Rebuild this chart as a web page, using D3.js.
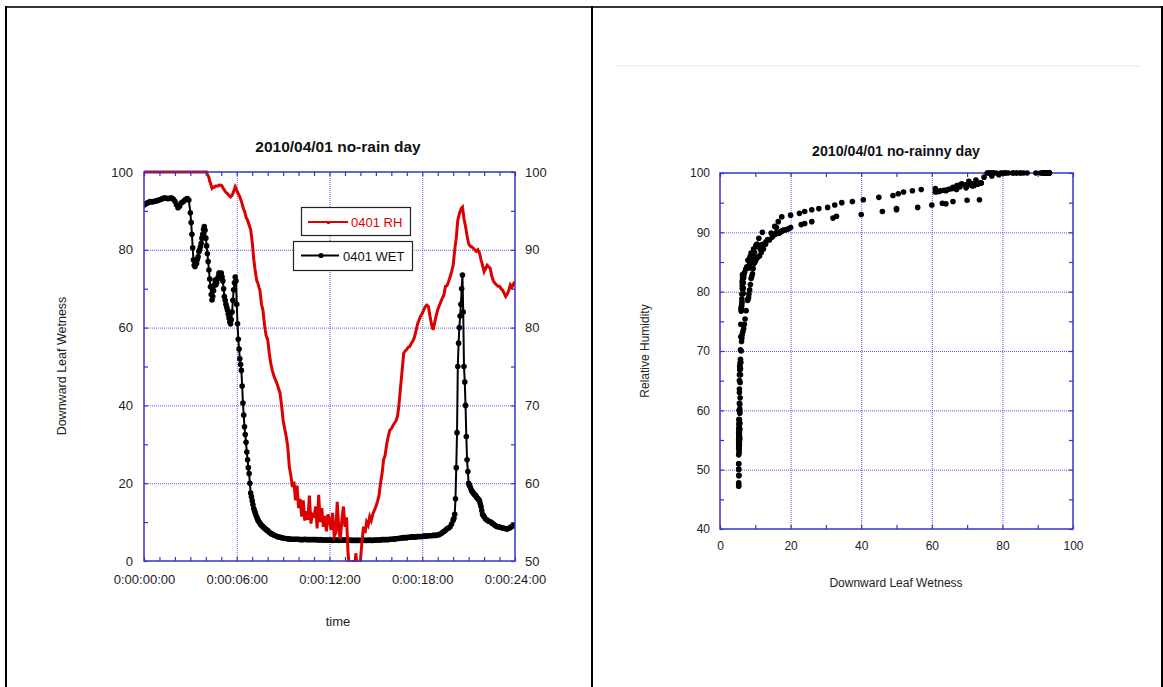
<!DOCTYPE html>
<html>
<head>
<meta charset="utf-8">
<script src="https://cdn.jsdelivr.net/npm/d3@7"></script>
<style>
body { margin: 0; background: #fff; }
svg { display: block; font-family: "Liberation Sans", Arial, sans-serif; }
</style>
</head>
<body>
<svg id="chart" width="1163" height="687"></svg>
<script>
// sample times (hours); readings every 6 min, every 3 min while things change fast
var hours = [
  0, 0.1, 0.2, 0.3, 0.4, 0.5, 0.6, 0.7, 0.8, 0.9,
  1, 1.1, 1.2, 1.3, 1.4, 1.5, 1.6, 1.7, 1.8, 1.9,
  2, 2.1, 2.2, 2.3, 2.4, 2.5, 2.6, 2.7, 2.8, 2.9,
  3, 3.05, 3.1, 3.15, 3.2, 3.25, 3.3, 3.35, 3.4, 3.45, 3.5, 3.55, 3.6, 3.65, 3.7, 3.75, 3.8, 3.85, 3.9, 3.95,
  4, 4.05, 4.1, 4.15, 4.2, 4.25, 4.3, 4.35, 4.4, 4.45, 4.5, 4.55, 4.6, 4.65, 4.7, 4.75, 4.8, 4.85, 4.9, 4.95,
  5, 5.05, 5.1, 5.15, 5.2, 5.25, 5.3, 5.35, 5.4, 5.45, 5.5, 5.55, 5.6, 5.65, 5.7, 5.75, 5.8, 5.85, 5.9, 5.95,
  6, 6.05, 6.1, 6.15, 6.2, 6.25, 6.3, 6.35, 6.4, 6.45, 6.5, 6.55, 6.6, 6.65, 6.7, 6.75, 6.8, 6.85, 6.9, 6.95,
  7, 7.05, 7.1, 7.15, 7.2, 7.25, 7.3, 7.35, 7.4, 7.45, 7.5, 7.55, 7.6, 7.65, 7.7, 7.75, 7.8, 7.85, 7.9, 7.95,
  8, 8.1, 8.2, 8.3, 8.4, 8.5, 8.6, 8.7, 8.8, 8.9,
  9, 9.1, 9.2, 9.3, 9.4, 9.5, 9.6, 9.7, 9.8, 9.9,
  10, 10.1, 10.2, 10.3, 10.4, 10.5, 10.6, 10.7, 10.8, 10.9,
  11, 11.1, 11.2, 11.3, 11.4, 11.5, 11.6, 11.7, 11.8, 11.9,
  12, 12.1, 12.2, 12.3, 12.4, 12.5, 12.6, 12.7, 12.8, 12.9,
  13, 13.1, 13.2, 13.3, 13.4, 13.5, 13.6, 13.7, 13.8, 13.9,
  14, 14.1, 14.2, 14.3, 14.4, 14.5, 14.6, 14.7, 14.8, 14.9,
  15, 15.1, 15.2, 15.3, 15.4, 15.5, 15.6, 15.7, 15.8, 15.9,
  16, 16.1, 16.2, 16.3, 16.4, 16.5, 16.6, 16.7, 16.8, 16.9,
  17, 17.1, 17.2, 17.3, 17.4, 17.5, 17.6, 17.7, 17.8, 17.9,
  18, 18.1, 18.2, 18.3, 18.4, 18.5, 18.6, 18.7, 18.8, 18.9,
  19, 19.1, 19.2, 19.3, 19.4, 19.5, 19.6, 19.7, 19.8, 19.9,
  20, 20.05, 20.1, 20.15, 20.2, 20.25, 20.3, 20.35, 20.4, 20.45, 20.5, 20.55, 20.6, 20.65, 20.7, 20.75, 20.8, 20.85, 20.9, 20.95,
  21, 21.05, 21.1, 21.15, 21.2, 21.25, 21.3, 21.35, 21.4, 21.45, 21.5, 21.55, 21.6, 21.65, 21.7, 21.75, 21.8, 21.85, 21.9, 21.95,
  22, 22.1, 22.2, 22.3, 22.4, 22.5, 22.6, 22.7, 22.8, 22.9,
  23, 23.1, 23.2, 23.3, 23.4, 23.5, 23.6, 23.7, 23.8, 23.9,
  24
];

// downward leaf wetness (left axis)
var wet = [
  91.5, 91.8, 92.0, 92.2, 92.4, 92.3, 92.4, 92.5, 92.6, 92.7,
  92.8, 93.0, 93.2, 93.3, 93.3, 93.2, 93.2, 93.3, 93.3, 93.0,
  92.5, 91.6, 90.8, 91.2, 92.0, 92.3, 92.6, 93.0, 93.2, 92.8,
  89.5, 87.0, 84.0, 80.5, 77.4, 76.0, 75.7, 76.8, 76.5, 77.5, 78.2, 79.5, 80.0, 80.8, 81.7, 83.0, 84.0, 85.2, 86.0, 85.0,
  83.0, 81.0, 79.0, 77.0, 74.8, 72.5, 70.5, 68.5, 67.1, 68.0, 69.5, 71.0, 72.2, 71.0, 71.5, 72.5, 73.0, 74.0, 73.5, 73.8,
  74.0, 73.0, 72.0, 70.0, 68.0, 67.0, 66.0, 65.2, 64.5, 63.5, 62.5, 61.5, 61.0, 62.0, 64.0, 67.0, 69.7, 71.5, 73.0, 72.0,
  66.0, 61.0, 57.0, 54.5, 52.0, 50.5, 49.0, 45.0, 40.6, 37.5, 34.5, 32.5, 30.5, 28.0, 26.0, 24.0, 22.5, 20.0, 17.5, 16.5,
  15.5, 14.5, 13.5, 12.9, 12.3, 11.7, 11.2, 10.7, 10.3, 10.0, 9.7, 9.4, 9.2, 9.0, 8.8, 8.6, 8.4, 8.2, 8.1, 7.9,
  7.8, 7.4, 7.1, 6.9, 6.7, 6.5, 6.3, 6.2, 6.1, 6.0,
  5.9, 5.8, 5.8, 5.7, 5.7, 5.6, 5.6, 5.6, 5.6, 5.6,
  5.6, 5.5, 5.5, 5.5, 5.6, 5.5, 5.5, 5.5, 5.5, 5.5,
  5.5, 5.5, 5.5, 5.4, 5.5, 5.4, 5.4, 5.4, 5.4, 5.4,
  5.4, 5.4, 5.3, 5.4, 5.4, 5.4, 5.3, 5.4, 5.4, 5.4,
  5.4, 5.4, 5.3, 5.4, 5.3, 5.3, 5.3, 5.3, 5.3, 5.3,
  5.3, 5.3, 5.4, 5.3, 5.3, 5.3, 5.4, 5.3, 5.3, 5.4,
  5.4, 5.4, 5.4, 5.4, 5.5, 5.5, 5.5, 5.5, 5.5, 5.6,
  5.6, 5.6, 5.7, 5.7, 5.8, 5.8, 5.9, 5.9, 6.0, 6.0,
  6.0, 6.1, 6.1, 6.2, 6.2, 6.2, 6.2, 6.3, 6.3, 6.3,
  6.3, 6.4, 6.4, 6.4, 6.5, 6.5, 6.5, 6.6, 6.6, 6.6,
  6.7, 6.8, 7.0, 7.3, 7.6, 7.9, 8.3, 8.5, 8.8, 9.5,
  10.5, 11.0, 12.0, 16.0, 24.0, 33.0, 50.0, 56.0, 60.0, 63.0, 66.0, 70.0, 73.5, 64.0, 50.0, 46.0, 40.0, 32.0, 26.0, 23.0,
  20.0, 19.5, 19.0, 18.5, 18.0, 17.8, 17.5, 17.2, 17.0, 16.8, 16.5, 16.2, 16.0, 15.8, 15.5, 14.8, 14.0, 13.0, 12.0, 11.7,
  11.4, 10.8, 10.5, 10.2, 10.1, 9.8, 9.5, 9.2, 8.9, 8.8,
  8.7, 8.6, 8.5, 8.4, 8.3, 8.2, 8.4, 8.6, 8.9, 9.1,
  9.3
];

// relative humidity (right axis)
var rh = [
  100, 100, 100, 100, 100, 100, 100, 100, 100, 100,
  100, 100, 100, 100, 100, 100, 100, 100, 100, 100,
  100, 100, 100, 100, 100, 100, 100, 100, 100, 100,
  100, 100, 100, 100, 100, 100, 100, 100, 100, 100, 100, 100, 100, 100, 100, 100, 100, 100, 100, 100,
  100, 100, 99.7, 99.5, 99.3, 98.8, 98.6, 98.2, 97.9, 98.0, 98.0, 98.1, 98.1, 98.2, 98.2, 98.2, 98.2, 98.3, 98.3, 98.3,
  98.3, 98.2, 98.0, 97.8, 97.7, 97.5, 97.4, 97.3, 97.2, 97.1, 97.0, 96.9, 96.8, 96.9, 97.0, 97.2, 97.5, 97.8, 98.1, 97.9,
  97.6, 97.4, 97.2, 97.0, 96.8, 96.5, 96.2, 95.9, 95.5, 95.2, 95.0, 94.6, 94.2, 94.0, 93.8, 93.5, 93.2, 92.9, 92.6, 91.8,
  91.0, 89.9, 88.8, 88.0, 87.2, 86.6, 86.0, 85.8, 85.5, 85.1, 84.8, 83.9, 83.0, 82.6, 82.2, 81.2, 80.3, 79.6, 79.0, 78.7,
  78.5, 76.8, 75.4, 74.5, 73.8, 73.3, 72.8, 72.2, 71.6, 70.0,
  68.1, 67.0, 66.0, 64.7, 62.1, 61.0, 59.5, 60.2, 57.8, 59.7,
  56.8, 58.0, 55.7, 57.8, 55.2, 56.4, 55.3, 58.4, 54.8, 56.2,
  55.6, 57.0, 54.2, 58.5, 55.0, 56.8, 54.4, 55.8, 53.8, 56.0,
  55.3, 54.0, 56.2, 53.2, 53.6, 57.6, 54.0, 52.8, 55.3, 57.0,
  54.4, 55.6, 51.0, 49.0, 47.8, 50.1, 47.4, 51.0, 49.0, 47.2,
  50.0, 52.5, 54.4, 53.6, 55.0, 54.6, 55.7, 55.2, 56.0, 56.5,
  57.0, 57.6, 58.4, 60.0, 61.2, 63.0, 63.6, 65.0, 66.0, 66.8,
  67.0, 67.4, 67.7, 68.0, 68.6, 70.2, 72.4, 74.5, 76.7, 77.0,
  77.2, 77.5, 77.6, 78.0, 78.3, 78.8, 79.6, 80.5, 81.0, 81.5,
  81.8, 82.3, 82.7, 82.9, 82.7, 81.5, 80.4, 79.7, 80.6, 81.5,
  82.3, 82.8, 83.3, 83.8, 84.2, 85.3, 85.4, 85.9, 86.5, 87.2,
  88.0, 89.0, 90.0, 90.8, 91.5, 92.7, 93.8, 94.2, 94.6, 94.9, 95.2, 95.4, 95.5, 94.8, 94.0, 93.5, 93.0, 92.4, 91.8, 91.3,
  90.8, 90.6, 90.5, 90.4, 90.4, 90.3, 90.2, 90.1, 90.0, 89.9, 89.8, 89.9, 90.0, 89.8, 89.6, 89.2, 88.7, 88.4, 88.0, 87.6,
  87.2, 87.6, 88.0, 87.8, 87.6, 86.6, 86.0, 85.7, 85.5, 85.3,
  85.3, 85.0, 84.8, 84.4, 84.0, 84.3, 84.8, 85.5, 85.2, 85.6,
  85.9
];

var timeTicks = [0, 6, 12, 18, 24];
var timeLabels = ["0:00:00:00", "0:00:06:00", "0:00:12:00", "0:00:18:00", "0:00:24:00"];
var wetTicks = [0, 20, 40, 60, 80, 100];
var rhTicks = [50, 60, 70, 80, 90, 100];
var scatterRhTicks = [40, 50, 60, 70, 80, 90, 100];
var seriesNames = ["0401 RH", "0401 WET"];

var axisBlue = "#3535c8";
var gridBlue = "#5c5ce0";
var labelColor = "#222";

var svg = d3.select("#chart");

// page frame lines
svg.append("line").attr("x1", 5).attr("x2", 1163).attr("y1", 7).attr("y2", 7)
  .attr("stroke", "#333").attr("stroke-width", 2);
[6, 592, 1162].forEach(function(x) {
  svg.append("line").attr("x1", x).attr("x2", x).attr("y1", 6).attr("y2", 687)
    .attr("stroke", "#000").attr("stroke-width", 2);
});
svg.append("line").attr("x1", 616).attr("x2", 1141).attr("y1", 66).attr("y2", 66)
  .attr("stroke", "#efefe4").attr("stroke-width", 1.5);

function grid(x, y, gx, gy) {
  var x0 = x.range()[0], x1 = x.range()[1], y0 = y.range()[0], y1 = y.range()[1];
  svg.append("g").attr("transform", "translate(0," + y0 + ")")
    .call(d3.axisBottom(x).tickValues(gx).tickSize(-(y0 - y1)).tickFormat(""))
    .call(function(g) { g.select(".domain").remove(); })
    .selectAll("line").attr("stroke", gridBlue).attr("stroke-dasharray", "1,1");
  svg.append("g").attr("transform", "translate(" + x0 + ",0)")
    .call(d3.axisLeft(y).tickValues(gy).tickSize(-(x1 - x0)).tickFormat(""))
    .call(function(g) { g.select(".domain").remove(); })
    .selectAll("line").attr("stroke", gridBlue).attr("stroke-dasharray", "1,1");
}

function minorTicks(x, y, yr, tx, ty, tyr) {
  var x0 = x.range()[0], x1 = x.range()[1], y0 = y.range()[0], y1 = y.range()[1];
  var parts = [
    [d3.axisBottom(x).tickValues(tx), "translate(0," + y0 + ")"],
    [d3.axisTop(x).tickValues(tx), "translate(0," + y1 + ")"],
    [d3.axisLeft(y).tickValues(ty), "translate(" + x0 + ",0)"],
    [d3.axisRight(yr).tickValues(tyr), "translate(" + x1 + ",0)"]
  ];
  parts.forEach(function(p) {
    svg.append("g").attr("transform", p[1])
      .call(p[0].tickSize(-4).tickFormat(""))
      .call(function(g) { g.select(".domain").remove(); })
      .selectAll("line").attr("stroke", axisBlue).attr("stroke-width", 1.2);
  });
  svg.append("rect").attr("x", x0).attr("y", y1).attr("width", x1 - x0).attr("height", y0 - y1)
    .attr("fill", "none").attr("stroke", axisBlue).attr("stroke-width", 1.5);
}

function labels(axis, transform, size) {
  svg.append("g").attr("transform", transform)
    .call(axis.tickSize(0))
    .call(function(g) { g.select(".domain").remove(); })
    .selectAll("text").attr("fill", labelColor).style("font-size", size + "px")
    .style("font-family", "'Liberation Sans', Arial, sans-serif");
}

// ---------- left chart: time series ----------
var xTime = d3.scaleLinear().domain([0, 24]).range([144, 515]);
var yWet = d3.scaleLinear().domain([0, 100]).range([561, 172]);
var yRh = d3.scaleLinear().domain([50, 100]).range([561, 172]);

grid(xTime, yWet, [6, 12, 18], [20, 40, 60, 80]);

svg.append("clipPath").attr("id", "clipL").append("rect")
  .attr("x", 144).attr("y", 170).attr("width", 371).attr("height", 392);

var plotL = svg.append("g").attr("clip-path", "url(#clipL)");

var wetLine = d3.line().x(function(d, i) { return xTime(hours[i]); }).y(function(d) { return yWet(d); });
var rhLine = d3.line().x(function(d, i) { return xTime(hours[i]); }).y(function(d) { return yRh(d); });

plotL.append("path").datum(wet).attr("d", wetLine)
  .attr("fill", "none").attr("stroke", "#000").attr("stroke-width", 2);
plotL.selectAll("circle.wet").data(wet).enter().append("circle")
  .attr("class", "wet")
  .attr("cx", function(d, i) { return xTime(hours[i]); })
  .attr("cy", function(d) { return yWet(d); })
  .attr("r", 2.8).attr("fill", "#000");
plotL.append("path").datum(rh).attr("d", rhLine)
  .attr("fill", "none").attr("stroke", "#dd0000").attr("stroke-width", 3)
  .attr("stroke-linejoin", "miter");

minorTicks(xTime, yWet, yRh, d3.range(0, 25, 1), d3.range(0, 101, 10), d3.range(50, 101, 5));

labels(d3.axisBottom(xTime).tickValues(timeTicks).tickFormat(function(d, i) { return timeLabels[i]; }).tickPadding(14),
  "translate(0,561)", 13);
labels(d3.axisLeft(yWet).tickValues(wetTicks).tickPadding(11), "translate(144,0)", 13);
labels(d3.axisRight(yRh).tickValues(rhTicks).tickPadding(10), "translate(515,0)", 13);

svg.append("text").attr("x", 338).attr("y", 152).attr("text-anchor", "middle")
  .style("font-size", "15.5px").style("font-weight", "bold").attr("fill", "#111")
  .text("2010/04/01 no-rain day");
svg.append("text").attr("transform", "translate(66,366) rotate(-90)").attr("text-anchor", "middle")
  .style("font-size", "12.5px").attr("fill", labelColor).text("Downward Leaf Wetness");
svg.append("text").attr("x", 338).attr("y", 626).attr("text-anchor", "middle")
  .style("font-size", "13px").attr("fill", labelColor).text("time");

// legend
var legRh = svg.append("g");
legRh.append("rect").attr("x", 301.5).attr("y", 207.5).attr("width", 109).attr("height", 28)
  .attr("fill", "#fff").attr("stroke", "#222").attr("stroke-width", 1.2);
legRh.append("line").attr("x1", 308).attr("x2", 348).attr("y1", 222).attr("y2", 222)
  .attr("stroke", "#dd0000").attr("stroke-width", 2);
legRh.append("rect").attr("x", 327).attr("y", 221).attr("width", 3).attr("height", 3).attr("fill", "#dd0000");
legRh.append("text").attr("x", 351).attr("y", 227).style("font-size", "13px")
  .attr("fill", "#dd0000").text(seriesNames[0]);

var legWet = svg.append("g");
legWet.append("rect").attr("x", 293.5).attr("y", 241.5).attr("width", 119).attr("height", 29)
  .attr("fill", "#fff").attr("stroke", "#222").attr("stroke-width", 1.2);
legWet.append("line").attr("x1", 301).attr("x2", 339).attr("y1", 255.5).attr("y2", 255.5)
  .attr("stroke", "#000").attr("stroke-width", 2);
legWet.append("circle").attr("cx", 321).attr("cy", 255.5).attr("r", 2.6).attr("fill", "#000");
legWet.append("text").attr("x", 343).attr("y", 261).style("font-size", "13px")
  .attr("fill", "#111").text(seriesNames[1]);

// ---------- right chart: scatter ----------
var xW = d3.scaleLinear().domain([0, 100]).range([720, 1073]);
var yR = d3.scaleLinear().domain([40, 100]).range([529, 173]);

grid(xW, yR, [20, 40, 60, 80], [50, 60, 70, 80, 90]);
minorTicks(xW, yR, yR, d3.range(0, 101, 10), d3.range(40, 101, 5), d3.range(40, 101, 5));

svg.append("g").selectAll("circle").data(hours).enter().append("circle")
  .attr("cx", function(d, i) { return xW(wet[i]); })
  .attr("cy", function(d, i) { return yR(rh[i]); })
  .attr("r", 2.8).attr("fill", "#000");

labels(d3.axisBottom(xW).tickValues(wetTicks).tickPadding(12), "translate(0,529)", 12);
labels(d3.axisLeft(yR).tickValues(scatterRhTicks).tickPadding(10), "translate(720,0)", 12);

svg.append("text").attr("x", 896).attr("y", 156).attr("text-anchor", "middle")
  .style("font-size", "14.2px").style("font-weight", "bold").attr("fill", "#111")
  .text("2010/04/01 no-rainny day");
svg.append("text").attr("transform", "translate(649,351) rotate(-90)").attr("text-anchor", "middle")
  .style("font-size", "12px").attr("fill", labelColor).text("Relative Humidity");
svg.append("text").attr("x", 896).attr("y", 587).attr("text-anchor", "middle")
  .style("font-size", "12px").attr("fill", labelColor).text("Downward Leaf Wetness");
</script>
</body>
</html>
